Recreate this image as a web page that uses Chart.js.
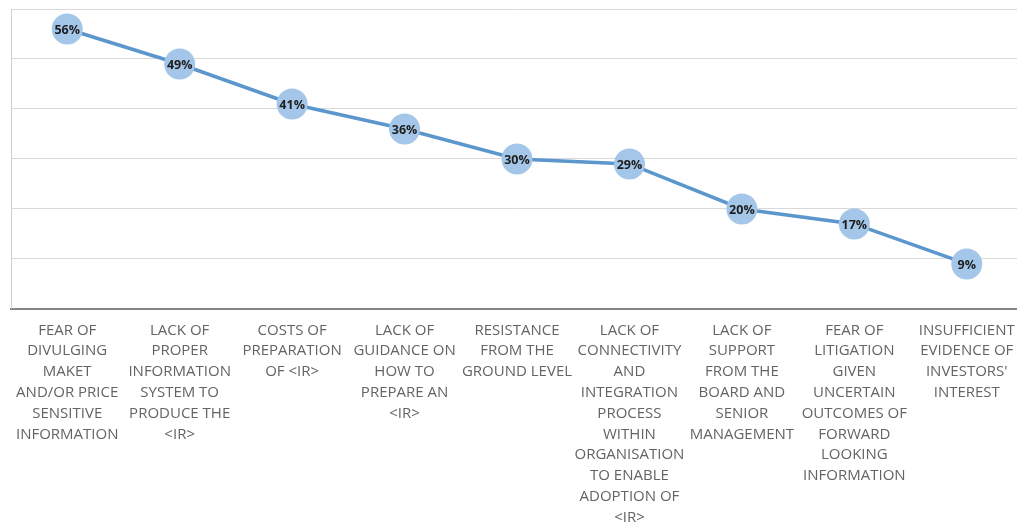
<!DOCTYPE html>
<html>
<head>
<meta charset="utf-8">
<script src="https://cdn.jsdelivr.net/npm/chart.js@4.4.1/dist/chart.umd.min.js"></script>
<style>
    html, body { margin: 0; padding: 0; background: #fff; overflow: hidden; }
    #wrap { width: 1023px; height: 531px; position: relative; }
</style>
</head>
<body>
<div id="wrap"><canvas id="barriersChart"></canvas></div>
<script>
const categories = [
    ['FEAR OF', 'DIVULGING', 'MAKET', 'AND/OR PRICE', 'SENSITIVE', 'INFORMATION'],
    ['LACK OF', 'PROPER', 'INFORMATION', 'SYSTEM TO', 'PRODUCE THE', '<IR>'],
    ['COSTS OF', 'PREPARATION', 'OF <IR>'],
    ['LACK OF', 'GUIDANCE ON', 'HOW TO', 'PREPARE AN', '<IR>'],
    ['RESISTANCE', 'FROM THE', 'GROUND LEVEL'],
    ['LACK OF', 'CONNECTIVITY', 'AND', 'INTEGRATION', 'PROCESS', 'WITHIN', 'ORGANISATION', 'TO ENABLE', 'ADOPTION OF', '<IR>'],
    ['LACK OF', 'SUPPORT', 'FROM THE', 'BOARD AND', 'SENIOR', 'MANAGEMENT'],
    ['FEAR OF', 'LITIGATION', 'GIVEN', 'UNCERTAIN', 'OUTCOMES OF', 'FORWARD', 'LOOKING', 'INFORMATION'],
    ['INSUFFICIENT', 'EVIDENCE OF', 'INVESTORS\'', 'INTEREST']
];
const percentages = [56, 49, 41, 36, 30, 29, 20, 17, 9];
const yTicks = [0, 10, 20, 30, 40, 50, 60];

// writes the percentage inside each marker
const pointLabels = {
    id: 'pointLabels',
    afterDatasetsDraw(chart) {
        const ctx = chart.ctx;
        const meta = chart.getDatasetMeta(0);
        ctx.save();
        ctx.font = 'bold 12.5px "Open Sans", sans-serif';
        ctx.fillStyle = '#1e1e1e';
        ctx.textAlign = 'center';
        ctx.textBaseline = 'middle';
        meta.data.forEach((pt, i) => {
            ctx.fillText(percentages[i] + '%', pt.x, pt.y + 1);
        });
        ctx.restore();
    }
};

function initializeChart() {
    const ctx = document.getElementById('barriersChart').getContext('2d');
    new Chart(ctx, {
        type: 'line',
        data: {
            labels: categories,
            datasets: [{
                data: percentages,
                borderColor: '#5b96cc',
                borderWidth: 3.5,
                pointRadius: 15.5,
                pointHoverRadius: 15.5,
                pointBackgroundColor: '#a3c6e9',
                pointBorderColor: '#a3c6e9',
                pointBorderWidth: 0,
                tension: 0
            }]
        },
        options: {
            responsive: true,
            maintainAspectRatio: false,
            animation: false,
            layout: { autoPadding: false, padding: { left: 10, top: 9, right: 0, bottom: -8 } },
            plugins: {
                legend: { display: false },
                tooltip: { enabled: false }
            },
            scales: {
                x: {
                    offset: true,
                    grid: { display: false, drawTicks: false },
                    border: { color: '#858585', width: 2 },
                    // long labels should not shrink the plot area sideways
                    afterFit: axis => { axis.paddingLeft = 0; axis.paddingRight = 0; },
                    ticks: {
                        autoSkip: false,
                        maxRotation: 0,
                        minRotation: 0,
                        padding: 11,
                        color: '#646464',
                        font: { family: 'Open Sans', size: 15, lineHeight: 1.387 }
                    }
                },
                y: {
                    min: yTicks[0],
                    max: yTicks[yTicks.length - 1],
                    afterBuildTicks: axis => { axis.ticks = yTicks.map(v => ({ value: v })); },
                    afterFit: axis => { axis.width = 1; axis.paddingTop = 0; axis.paddingBottom = 0; },
                    grid: { color: '#d9d9d9', lineWidth: 1, drawTicks: false },
                    border: { color: '#d0d0d0', width: 1 },
                    ticks: { display: false }
                }
            }
        },
        plugins: [pointLabels]
    });
}

document.addEventListener('DOMContentLoaded', initializeChart);
</script>
</body>
</html>
